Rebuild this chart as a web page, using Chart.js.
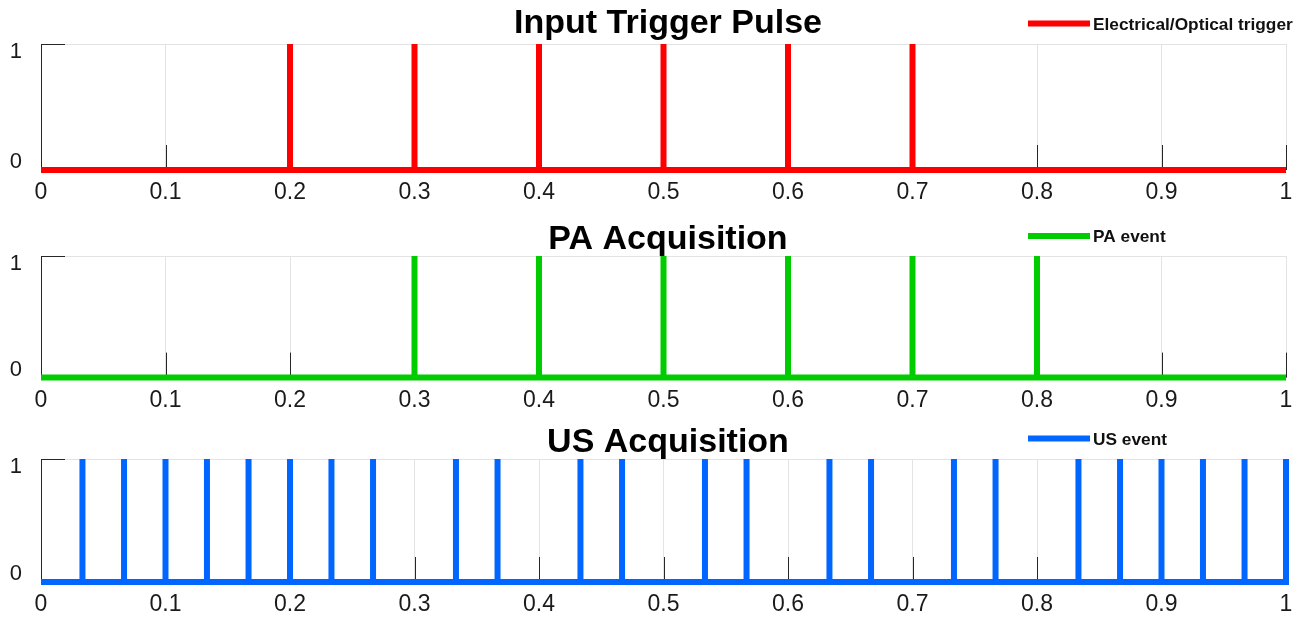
<!DOCTYPE html>
<html><head><meta charset="utf-8">
<script src="https://cdn.jsdelivr.net/npm/chart.js@4.4.1/dist/chart.umd.min.js"></script>
<style>
html,body{margin:0;padding:0;background:#fff;width:1302px;height:619px;overflow:hidden}
canvas{position:absolute;left:0}
</style></head><body>
<canvas id="c0" width="1302" height="205" style="top:0px"></canvas>
<canvas id="c1" width="1302" height="207" style="top:205px"></canvas>
<canvas id="c2" width="1302" height="207" style="top:412px"></canvas>
<script>
// ---- data ----
const xTickValues = [0, 0.1, 0.2, 0.3, 0.4, 0.5, 0.6, 0.7, 0.8, 0.9, 1];
const xTickLabels = ['0', '0.1', '0.2', '0.3', '0.4', '0.5', '0.6', '0.7', '0.8', '0.9', '1'];
const yTickValues = [0, 1];
const yTickLabels = ['0', '1'];
const triggerEvents = [0.2, 0.3, 0.4, 0.5, 0.6, 0.7];
const paEvents = [0.3, 0.4, 0.5, 0.6, 0.7, 0.8];
const usEvents = [0.0333, 0.0667, 0.1, 0.1333, 0.1667, 0.2, 0.2333, 0.2667,
                  0.3333, 0.3667, 0.4333, 0.4667, 0.5333, 0.5667, 0.6333, 0.6667,
                  0.7333, 0.7667, 0.8333, 0.8667, 0.9, 0.9333, 0.9667, 1];
const titles = ['Input Trigger Pulse', 'PA Acquisition', 'US Acquisition'];
const seriesNames = ['Electrical/Optical trigger', 'PA event', 'US event'];
const seriesEvents = [triggerEvents, paEvents, usEvents];

// ---- style ----
const colors = ['#ff0000', '#00cc00', '#0066ff'];
const panels = [
  {H: 205, top: 44, bottom: 170, titleY: 33, legendY: 23.5},
  {H: 207, top: 51, bottom: 175, titleY: 44, legendY: 31},
  {H: 207, top: 47, bottom: 170, titleY: 40, legendY: 26.5}
];
const FONT = "'Liberation Sans', Arial, Helvetica, sans-serif";

function stemData(events) {
  const d = [{x: xTickValues[0], y: yTickValues[0]}];
  events.forEach(e => { d.push({x: e, y: 0}, {x: e, y: 1}, {x: e, y: 0}); });
  const xmax = xTickValues[xTickValues.length - 1];
  if (events[events.length - 1] < xmax) d.push({x: xmax, y: 0});
  return d;
}

const deco = {
  id: 'deco',
  beforeDatasetsDraw(chart) {
    const ctx = chart.ctx, a = chart.chartArea, xs = chart.scales.x, ys = chart.scales.y;
    ctx.save();
    ctx.strokeStyle = '#262626';
    ctx.lineWidth = 1;
    ctx.beginPath();
    xTickValues.forEach(v => {
      const px = Math.round(xs.getPixelForValue(v)) + 0.5;
      if (v === xTickValues[0]) return;
      ctx.moveTo(px, a.bottom);
      ctx.lineTo(px, a.bottom - 25);
    });
    yTickValues.forEach(v => {
      const py = Math.round(ys.getPixelForValue(v)) + 0.5;
      ctx.moveTo(a.left, py);
      ctx.lineTo(a.left + 24, py);
    });
    ctx.stroke();
    ctx.restore();
  },
  afterDraw(chart, args, opts) {
    const ctx = chart.ctx;
    const p = panels[opts.idx];
    ctx.save();
    ctx.fillStyle = '#000';
    ctx.font = 'bold 34px ' + FONT;
    ctx.textAlign = 'center';
    ctx.textBaseline = 'alphabetic';
    ctx.fillText(titles[opts.idx], 668, p.titleY);
    // legend
    ctx.strokeStyle = colors[opts.idx];
    ctx.lineWidth = 6;
    ctx.beginPath();
    ctx.moveTo(1028, p.legendY);
    ctx.lineTo(1090, p.legendY);
    ctx.stroke();
    ctx.font = 'bold 17.3px ' + FONT;
    ctx.textAlign = 'left';
    ctx.fillStyle = '#111';
    ctx.fillText(seriesNames[opts.idx], 1093, p.legendY + 6);
    ctx.restore();
  }
};

panels.forEach((p, i) => {
  new Chart(document.getElementById('c' + i), {
    type: 'line',
    data: {
      datasets: [{
        label: seriesNames[i],
        data: stemData(seriesEvents[i]),
        borderColor: colors[i],
        backgroundColor: colors[i],
        borderWidth: 6,
        pointRadius: 0,
        borderJoinStyle: 'miter',
        borderCapStyle: 'butt',
        tension: 0,
        fill: false,
        clip: false
      }]
    },
    options: {
      responsive: false,
      animation: false,
      events: [],
      layout: {padding: {top: p.top, right: 16, left: 0, bottom: 0}},
      plugins: {legend: {display: false}, title: {display: false}, tooltip: {enabled: false}, deco: {idx: i}},
      scales: {
        x: {
          type: 'linear', min: 0, max: 1,
          afterBuildTicks: s => { s.ticks = xTickValues.map(v => ({value: v})); },
          afterFit: s => { s.height = p.H - p.bottom; },
          grid: {color: '#e3e3e3', lineWidth: 1, drawTicks: false},
          border: {display: false},
          ticks: {
            padding: 9,
            color: '#1a1a1a',
            font: {family: FONT, size: 23},
            maxRotation: 0, autoSkip: false,
            callback: (v, idx) => xTickLabels[idx]
          }
        },
        y: {
          type: 'linear', min: 0, max: 1,
          afterBuildTicks: s => { s.ticks = yTickValues.map(v => ({value: v})); },
          afterFit: s => { s.width = 41; },
          grid: {color: '#e3e3e3', lineWidth: 1, drawTicks: false},
          border: {display: true, color: '#262626', width: 1},
          ticks: {
            padding: 19,
            color: '#1a1a1a',
            font: {family: FONT, size: 22, lineHeight: 0.7},
            autoSkip: false,
            callback: (v, idx) => idx === 0 ? [yTickLabels[idx], ''] : ['', yTickLabels[idx]]
          }
        }
      }
    },
    plugins: [deco]
  });
});
</script>
</body></html>
